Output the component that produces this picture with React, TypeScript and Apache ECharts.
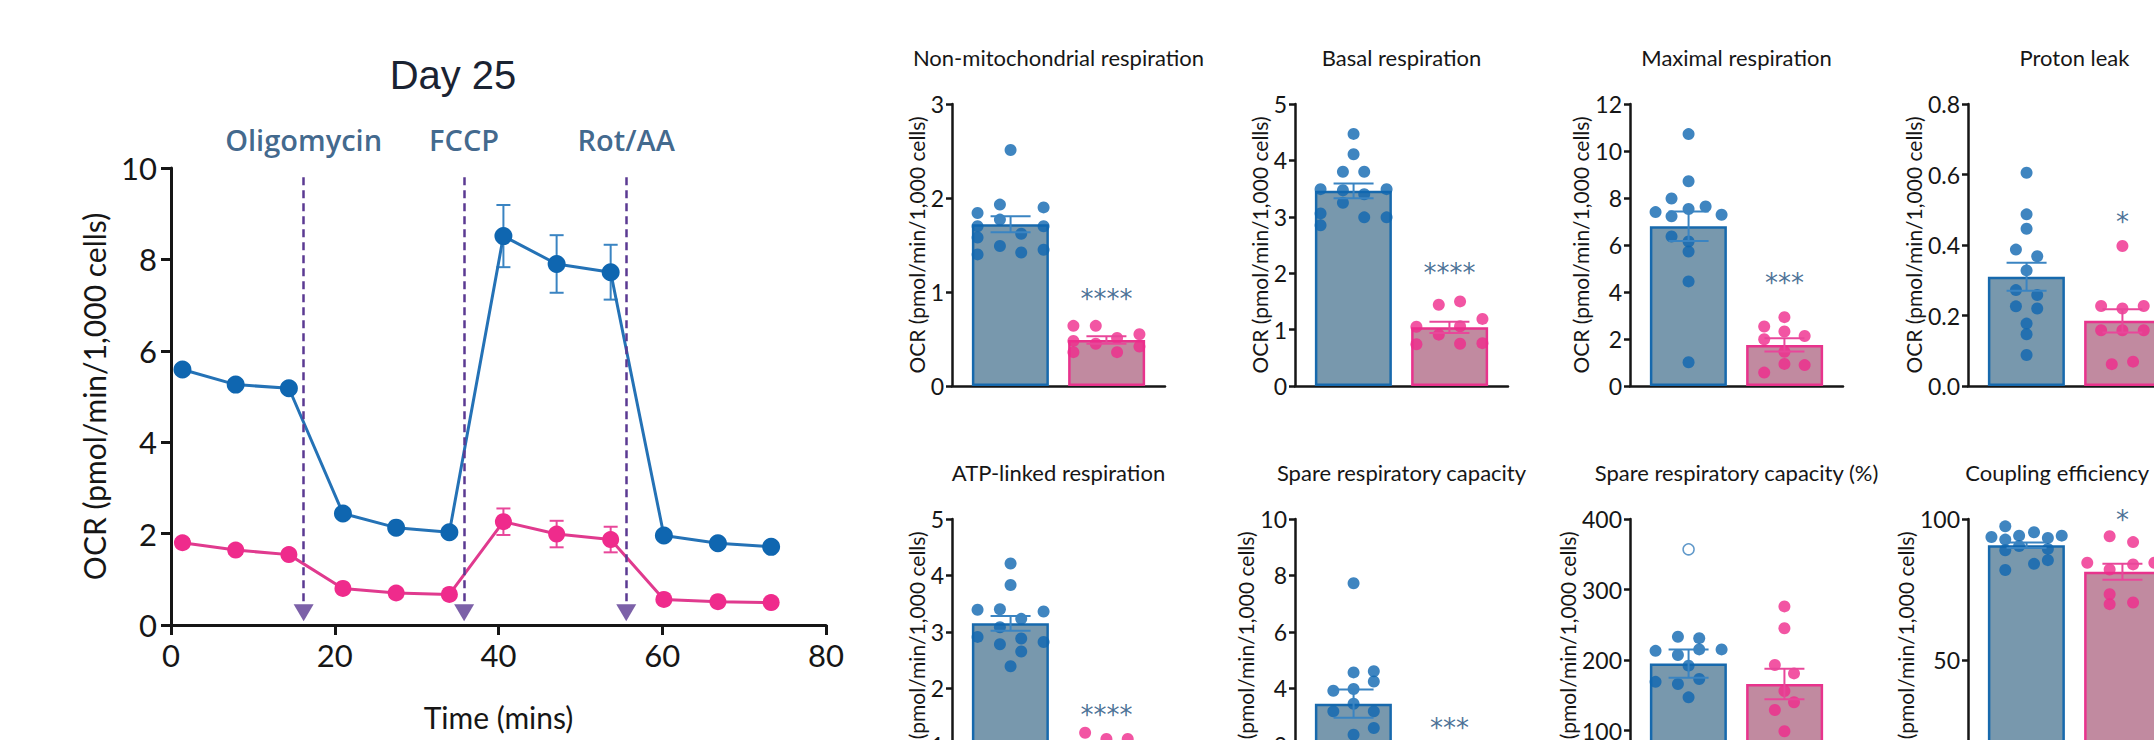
import React, { useEffect, useRef } from "react";
import * as echarts from "echarts";

// ---------------- Line chart (Day 25) data ----------------
const timeMins = [1.4, 7.9, 14.4, 21.0, 27.5, 34.0, 40.6, 47.1, 53.7, 60.2, 66.8, 73.3];
const ctrlOCR = [5.59, 5.26, 5.18, 2.44, 2.13, 2.03, 8.51, 7.9, 7.72, 1.96, 1.79, 1.71];
const ctrlSEM = [0.1, 0.1, 0.1, 0.08, 0.07, 0.07, 0.68, 0.63, 0.6, 0.07, 0.06, 0.06];
const treatOCR = [1.8, 1.64, 1.54, 0.8, 0.7, 0.67, 2.26, 1.99, 1.87, 0.56, 0.51, 0.49];
const treatSEM = [0.08, 0.07, 0.07, 0.05, 0.05, 0.05, 0.29, 0.29, 0.28, 0.04, 0.04, 0.04];
const injectionTimes = [16.2, 35.8, 55.6];
const injectionLabels = ["Oligomycin", "FCCP", "Rot/AA"];
const injectionLabelY = 10.62;
const dashTop = 9.8;
const dashBottom = 0.46;
const arrowY = 0.27;

// ---------------- Bar panels data ----------------
const panelTitles = [
  "Non-mitochondrial respiration",
  "Basal respiration",
  "Maximal respiration",
  "Proton leak",
  "ATP-linked respiration",
  "Spare respiratory capacity",
  "Spare respiratory capacity (%)",
  "Coupling efficiency (%)",
];
const panelMax = [3, 5, 12, 0.8, 5, 10, 400, 100];
const panelInterval = [1, 1, 2, 0.2, 1, 2, 100, 50];
const panelDecimals = [0, 0, 0, 1, 0, 0, 0, 0];
const ctrlMeans = [1.72, 3.46, 6.8, 0.31, 3.15, 3.45, 195, 90.7];
const ctrlSems = [0.085, 0.13, 0.63, 0.04, 0.13, 0.5, 20, 1.0];
const treatMeans = [0.49, 1.04, 1.75, 0.185, 0.83, 1.0, 166, 81.3];
const treatSems = [0.04, 0.1, 0.28, 0.033, 0.08, 0.12, 21.5, 2.8];
const significance = ["****", "****", "***", "*", "****", "***", "", "*"];
const significanceY = [0.98, 2.09, 4.59, 0.48, 1.62, 2.78, 0, 101.5];

// dots: [jitter, value]
const nonMitoCtrl = [[-0.31, 1.84], [-0.31, 1.7], [-0.31, 1.58], [-0.31, 1.4], [-0.1, 1.93], [-0.1, 1.77], [-0.1, 1.49], [0.1, 1.62], [0.1, 1.42], [0.31, 1.9], [0.31, 1.7], [0.31, 1.45], [0, 2.51]];
const nonMitoTreat = [[-0.31, 0.64], [-0.1, 0.64], [-0.31, 0.48], [-0.1, 0.45], [0.1, 0.51], [0.31, 0.55], [-0.31, 0.36], [0.1, 0.36], [0.31, 0.42]];
const basalCtrl = [[0, 4.47], [0, 4.11], [-0.1, 3.8], [0.1, 3.8], [-0.31, 3.49], [0.31, 3.49], [-0.1, 3.47], [0.1, 3.4], [-0.1, 3.25], [-0.31, 3.06], [-0.31, 2.85], [0.1, 2.99], [0.31, 2.99]];
const basalTreat = [[-0.1, 1.44], [0.1, 1.5], [-0.31, 1.05], [-0.1, 0.91], [0.1, 1.06], [0.31, 1.19], [-0.31, 0.74], [0.1, 0.75], [0.31, 0.76]];
const maximalCtrl = [[0, 10.72], [0, 8.71], [-0.16, 7.98], [-0.31, 7.4], [-0.16, 7.22], [0, 7.53], [0.16, 7.64], [0.31, 7.29], [-0.16, 6.36], [0, 6.15], [0, 5.72], [0, 4.45], [0, 1.01]];
const maximalTreat = [[-0.19, 2.53], [0, 2.93], [-0.19, 1.99], [0, 2.32], [0.19, 2.13], [0, 1.46], [-0.19, 0.57], [0, 0.94], [0.19, 0.89]];
const protonCtrl = [[0, 0.605], [0, 0.487], [0, 0.446], [-0.1, 0.387], [0.1, 0.368], [0, 0.328], [-0.1, 0.272], [0.1, 0.258], [-0.1, 0.226], [0.1, 0.22], [0, 0.177], [0, 0.147], [0, 0.088]];
const protonTreat = [[0, 0.397], [-0.2, 0.227], [0, 0.22], [0.2, 0.227], [-0.2, 0.158], [0, 0.158], [0.2, 0.158], [-0.1, 0.062], [0.1, 0.069]];
const atpCtrl = [[0, 4.21], [0, 3.83], [-0.31, 3.39], [-0.1, 3.4], [0.31, 3.36], [0.1, 3.23], [-0.1, 3.08], [-0.31, 2.91], [0.1, 2.88], [0.31, 2.82], [-0.1, 2.78], [0.1, 2.65], [0, 2.39]];
const atpTreat = [[-0.2, 1.21], [0, 1.1], [0.2, 1.1], [-0.2, 0.92], [0, 0.85], [0.2, 0.8], [-0.2, 0.62], [0, 0.55], [0.2, 0.5]];
const spareCtrl = [[0, 7.72], [0, 4.56], [0.19, 4.6], [0.19, 4.24], [-0.19, 3.91], [0, 3.97], [0, 3.45], [-0.19, 3.18], [0.19, 3.18], [0.19, 2.59], [0, 2.35], [-0.19, 1.95], [0, 1.7]];
const spareTreat = [[-0.19, 1.6], [0, 1.4], [0.19, 1.3], [-0.19, 1.0], [0, 0.9], [0.19, 0.8], [-0.19, 0.6], [0, 0.5], [0.19, 0.4]];
const sparePctCtrl = [[-0.1, 233], [0.1, 231], [-0.31, 213], [0.31, 215], [-0.1, 207], [0.1, 215], [0, 192], [-0.31, 169], [-0.1, 166], [0.1, 173], [0, 147]];
const sparePctCtrlOutlier = [[0, 357]];
const sparePctTreat = [[0, 276], [0, 245], [-0.09, 193], [0.09, 181], [0, 156], [0.09, 140], [-0.09, 129], [0, 99], [0.09, 75]];
const couplingCtrl = [[-0.2, 97.4], [-0.33, 93.6], [-0.2, 92.7], [-0.07, 94.1], [0.07, 95.3], [0.2, 93.3], [0.33, 94.1], [-0.2, 88.9], [-0.07, 90.4], [0.2, 89.4], [0.07, 84.1], [0.2, 85.4], [-0.2, 81.9]];
const couplingTreat = [[-0.12, 93.9], [0.1, 91.8], [-0.33, 84.5], [-0.12, 82.1], [0.1, 83.9], [0.3, 84.5], [-0.12, 73.3], [-0.12, 69.8], [0.1, 70.4]];

const ctrlDots = [nonMitoCtrl, basalCtrl, maximalCtrl, protonCtrl, atpCtrl, spareCtrl, sparePctCtrl, couplingCtrl];
const treatDots = [nonMitoTreat, basalTreat, maximalTreat, protonTreat, atpTreat, spareTreat, sparePctTreat, couplingTreat];
const ctrlOutliers = [[], [], [], [], [], [], sparePctCtrlOutlier, []];

// ---------------- styling / layout ----------------
const FONT = "Lato, 'Open Sans', sans-serif";
const LABEL_FONT = "'Open Sans', Lato, sans-serif";
const STAR_FONT = "'DejaVu Sans', sans-serif";
const INK = "#161616";
const NAVY = "#0f416f";
const STAR = "#1a4d7c";
const BLUE_DOT = "#0f66b0";
const BLUE_LINE = "#2472b6";
const BLUE_ERR = "#3a84c2";
const BLUE_FILL = "#7898ad";
const BLUE_EDGE = "#1769ad";
const PINK_DOT = "#ef2b8c";
const PINK_LINE = "#e03a8e";
const PINK_ERR = "#e8479a";
const PINK_FILL = "#c18aa0";
const PINK_EDGE = "#e8338c";
const PURPLE = "#5b3a92";

const colX = [952, 1295, 1630, 1968];
const rowTop = [104, 519];
const plotW = 213;
const plotH = 282;
const ctrlCenter = 0.55;
const treatCenter = 1.45;

function errorSeries(xAxisIndex: number, yAxisIndex: number, data: number[][], color: string, cap: number, width: number, z: number) {
  return {
    type: "custom",
    xAxisIndex,
    yAxisIndex,
    z,
    silent: true,
    encode: { x: 0, y: [1, 2] },
    data,
    renderItem: (params: any, api: any) => {
      const x = api.value(0);
      const lo = api.coord([x, api.value(1)]);
      const hi = api.coord([x, api.value(2)]);
      const style = { stroke: color, lineWidth: width };
      return {
        type: "group",
        children: [
          { type: "line", shape: { x1: lo[0], y1: lo[1], x2: hi[0], y2: hi[1] }, style },
          { type: "line", shape: { x1: lo[0] - cap, y1: lo[1], x2: lo[0] + cap, y2: lo[1] }, style },
          { type: "line", shape: { x1: hi[0] - cap, y1: hi[1], x2: hi[0] + cap, y2: hi[1] }, style },
        ],
      };
    },
  };
}

function buildOption() {
  const grid: any[] = [{ left: 171, top: 168, width: 655, height: 457, outerBoundsMode: "none" }];
  const xAxis: any[] = [
    {
      gridIndex: 0,
      type: "value",
      min: 0,
      max: 80,
      interval: 20,
      name: "Time (mins)",
      nameLocation: "middle",
      nameGap: 77,
      nameTextStyle: { fontSize: 30, color: INK, fontFamily: FONT },
      axisLine: { show: true, onZero: false, lineStyle: { color: INK, width: 3 } },
      axisTick: { show: true, length: 10, lineStyle: { color: INK, width: 3 } },
      axisLabel: { fontSize: 31, color: INK, margin: 14, fontFamily: FONT },
      splitLine: { show: false },
    },
  ];
  const yAxis: any[] = [
    {
      gridIndex: 0,
      type: "value",
      min: 0,
      max: 10,
      interval: 2,
      name: "OCR (pmol/min/1,000 cells)",
      nameLocation: "middle",
      nameRotate: 90,
      nameGap: 62,
      nameTextStyle: { fontSize: 30, color: INK, fontFamily: FONT },
      axisLine: { show: true, lineStyle: { color: INK, width: 3 } },
      axisTick: { show: true, length: 10, lineStyle: { color: INK, width: 3 } },
      axisLabel: { fontSize: 31, color: INK, margin: 14, fontFamily: FONT },
      splitLine: { show: false },
    },
  ];
  const series: any[] = [];

  series.push(errorSeries(0, 0, timeMins.map((t, i) => [t, ctrlOCR[i] - ctrlSEM[i], ctrlOCR[i] + ctrlSEM[i]]), BLUE_ERR, 7, 2, 2));
  series.push(errorSeries(0, 0, timeMins.map((t, i) => [t, treatOCR[i] - treatSEM[i], treatOCR[i] + treatSEM[i]]), PINK_ERR, 7, 2, 2));
  series.push({
    type: "line",
    xAxisIndex: 0,
    yAxisIndex: 0,
    data: timeMins.map((t, i) => [t, ctrlOCR[i]]),
    symbol: "circle",
    symbolSize: 18,
    lineStyle: { color: BLUE_LINE, width: 3 },
    itemStyle: { color: BLUE_DOT },
    z: 4,
    markLine: {
      silent: true,
      symbol: ["none", "none"],
      label: { show: false },
      lineStyle: { type: [8, 5], color: PURPLE, width: 2.5 },
      data: injectionTimes.map((x) => [{ coord: [x, dashTop] }, { coord: [x, dashBottom] }]),
    },
  });
  series.push({
    type: "line",
    xAxisIndex: 0,
    yAxisIndex: 0,
    data: timeMins.map((t, i) => [t, treatOCR[i]]),
    symbol: "circle",
    symbolSize: 17,
    lineStyle: { color: PINK_LINE, width: 3 },
    itemStyle: { color: PINK_DOT },
    z: 4,
  });
  series.push({
    type: "scatter",
    xAxisIndex: 0,
    yAxisIndex: 0,
    data: injectionTimes.map((x) => [x, arrowY]),
    symbol: "triangle",
    symbolRotate: 180,
    symbolSize: [20, 17],
    itemStyle: { color: PURPLE },
    z: 5,
  });
  series.push({
    type: "scatter",
    xAxisIndex: 0,
    yAxisIndex: 0,
    clip: false,
    data: injectionTimes.map((x, i) => ({ name: injectionLabels[i], value: [x, injectionLabelY] })),
    symbolSize: 1,
    itemStyle: { color: "rgba(0,0,0,0)" },
    label: {
      show: true,
      position: "inside",
      formatter: (p: any) => p.name,
      fontSize: 29,
      fontWeight: 600,
      color: NAVY,
      fontFamily: LABEL_FONT,
    },
  });

  const graphic: any[] = [
    {
      type: "text",
      x: 453,
      y: 75,
      style: { text: "Day 25", fontSize: 40, fontFamily: "'Liberation Sans', Arial, sans-serif", fill: "#1a2332", align: "center", verticalAlign: "middle" },
    },
  ];

  for (let p = 0; p < 8; p++) {
    const col = p % 4;
    const row = Math.floor(p / 4);
    const gi = p + 1;
    grid.push({ left: colX[col], top: rowTop[row], width: plotW, height: plotH, outerBoundsMode: "none", containLabel: false });
    const catIdx = xAxis.length;
    xAxis.push({
      gridIndex: gi,
      type: "category",
      data: ["group"],
      axisLine: { show: true, lineStyle: { color: INK, width: 2.5 } },
      axisTick: { show: false },
      axisLabel: { show: false },
      splitLine: { show: false },
    });
    const valIdx = xAxis.length;
    xAxis.push({ gridIndex: gi, type: "value", min: 0, max: 2, show: false });
    const yIdx = yAxis.length;
    const dec = panelDecimals[p];
    yAxis.push({
      gridIndex: gi,
      type: "value",
      min: 0,
      max: panelMax[p],
      interval: panelInterval[p],
      name: "OCR (pmol/min/1,000 cells)",
      nameLocation: "middle",
      nameRotate: 90,
      nameGap: 20,
      nameTextStyle: { fontSize: 21, color: INK, fontFamily: FONT },
      axisLine: { show: true, lineStyle: { color: INK, width: 2.5 } },
      axisTick: { show: true, length: 6, lineStyle: { color: INK, width: 2.5 } },
      axisLabel: { fontSize: 23, color: INK, margin: 8, fontFamily: FONT, formatter: (v: number) => v.toFixed(dec) },
      splitLine: { show: false },
    });

    series.push({
      type: "bar",
      xAxisIndex: catIdx,
      yAxisIndex: yIdx,
      data: [ctrlMeans[p]],
      barWidth: 77,
      barGap: "25%",
      itemStyle: { color: BLUE_FILL, borderColor: BLUE_EDGE, borderWidth: 2.5 },
      z: 1,
    });
    series.push({
      type: "bar",
      xAxisIndex: catIdx,
      yAxisIndex: yIdx,
      data: [treatMeans[p]],
      barWidth: 77,
      barGap: "25%",
      itemStyle: { color: PINK_FILL, borderColor: PINK_EDGE, borderWidth: 2.5 },
      z: 1,
    });
    series.push({
      type: "scatter",
      xAxisIndex: valIdx,
      yAxisIndex: yIdx,
      data: ctrlDots[p].map(([dx, v]) => [ctrlCenter + dx, v]),
      symbolSize: 12,
      itemStyle: { color: BLUE_DOT },
      z: 3,
    });
    if (ctrlOutliers[p].length) {
      series.push({
        type: "scatter",
        xAxisIndex: valIdx,
        yAxisIndex: yIdx,
        data: ctrlOutliers[p].map(([dx, v]) => [ctrlCenter + dx, v]),
        symbol: "circle",
        symbolSize: 11,
        itemStyle: { color: "#ffffff", borderColor: "#3a80bd", borderWidth: 1.5 },
        z: 3,
      });
    }
    series.push({
      type: "scatter",
      xAxisIndex: valIdx,
      yAxisIndex: yIdx,
      data: treatDots[p].map(([dx, v]) => [treatCenter + dx, v]),
      symbolSize: 12,
      itemStyle: { color: PINK_DOT },
      z: 3,
    });
    series.push(errorSeries(valIdx, yIdx, [[ctrlCenter, ctrlMeans[p] - ctrlSems[p], ctrlMeans[p] + ctrlSems[p]]], BLUE_ERR, 20, 2, 4));
    series.push(errorSeries(valIdx, yIdx, [[treatCenter, treatMeans[p] - treatSems[p], treatMeans[p] + treatSems[p]]], PINK_ERR, 20, 2, 4));
    if (significance[p]) {
      series.push({
        type: "scatter",
        xAxisIndex: valIdx,
        yAxisIndex: yIdx,
        clip: false,
        data: [{ name: significance[p], value: [treatCenter, significanceY[p]] }],
        symbolSize: 1,
        itemStyle: { color: "rgba(0,0,0,0)" },
        label: {
          show: true,
          position: "inside",
          formatter: (q: any) => q.name,
          fontSize: 26,
          offset: [0, 5],
          color: STAR,
          fontFamily: STAR_FONT,
        },
        z: 5,
      });
    }
    graphic.push({
      type: "text",
      x: colX[col] + plotW / 2,
      y: rowTop[row] - 47,
      style: { text: panelTitles[p], fontSize: 22, fontFamily: FONT, fill: INK, align: "center", verticalAlign: "middle" },
    });
  }

  return {
    animation: false,
    backgroundColor: "#ffffff",
    textStyle: { fontFamily: FONT },
    grid,
    xAxis,
    yAxis,
    series,
    graphic,
  };
}

export default function App() {
  const ref = useRef<HTMLDivElement>(null);
  useEffect(() => {
    if (!ref.current) return;
    const chart = echarts.init(ref.current, undefined, { renderer: "svg" });
    chart.setOption(buildOption() as any);
    return () => chart.dispose();
  }, []);
  return (
    <div
      ref={ref}
      style={{ position: "fixed", left: 0, top: 0, width: 2154, height: 740, background: "#ffffff" }}
    />
  );
}
